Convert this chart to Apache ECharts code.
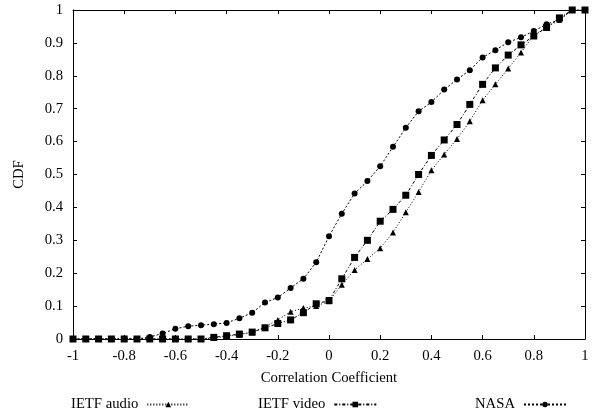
<!DOCTYPE html>
<html><head><meta charset="utf-8">
<script src="https://cdn.jsdelivr.net/npm/echarts@6/dist/echarts.min.js"></script>
<style>html,body{margin:0;padding:0;background:#fff}#c{width:595px;height:417px}</style>
</head><body><div id="c"></div>
<script>
var xValues = [-1,-0.95,-0.9,-0.85,-0.8,-0.75,-0.7,-0.65,-0.6,-0.55,-0.5,-0.45,-0.4,-0.35,-0.3,-0.25,-0.2,-0.15,-0.1,-0.05,0,0.05,0.1,0.15,0.2,0.25,0.3,0.35,0.4,0.45,0.5,0.55,0.6,0.65,0.7,0.75,0.8,0.85,0.9,0.95,1];
var ietfAudio = [0,0,0,0,0.003,0,0,0,0,0,0,0.003,0.008,0.013,0.02,0.037,0.058,0.083,0.094,0.1,0.115,0.165,0.21,0.243,0.276,0.324,0.385,0.447,0.513,0.561,0.608,0.662,0.726,0.774,0.822,0.871,0.924,0.947,0.97,1,1];
var ietfVideo = [0,0,0,0,0,0,0,0,0,0,0,0.005,0.01,0.015,0.021,0.034,0.047,0.058,0.08,0.107,0.117,0.183,0.248,0.3,0.358,0.394,0.437,0.5,0.558,0.605,0.652,0.713,0.774,0.824,0.863,0.894,0.921,0.947,0.976,1,1];
var nasa = [0,0,0,0,0,0,0.006,0.017,0.031,0.039,0.042,0.045,0.049,0.063,0.08,0.111,0.126,0.155,0.183,0.233,0.312,0.381,0.442,0.48,0.525,0.584,0.642,0.692,0.72,0.758,0.789,0.817,0.856,0.878,0.902,0.917,0.936,0.957,0.97,1,1];
var seriesNames = ['IETF audio','IETF video','NASA'];
var xTitle = 'Correlation Coefficient';
var yTitle = 'CDF';

function pairs(ys){ return xValues.map(function(x,i){ return [x, ys[i]]; }); }
var font = 'Liberation Serif';
var fs = 14.7;
var chart = echarts.init(document.getElementById('c'), null, {renderer:'canvas'});
var axisBase = {
  axisLine:{show:true, onZero:false, lineStyle:{color:'#000', width:1}},
  axisTick:{show:true, inside:true, length:4, lineStyle:{color:'#000'}},
  splitLine:{show:false}
};
function legendAt(left, name){
  return {data:[name], left:left, top:397, align:'right', itemWidth:42, itemHeight:7, itemGap:0, padding:0,
    textStyle:{fontFamily:font, fontSize:fs, color:'#000', padding:[0,4,0,0]}, selectedMode:false};
}
function fmt(v){ return String(Math.round(v*10)/10); }
chart.setOption({
  animation:false,
  backgroundColor:'#fff',
  grid:{left:73, right:10, top:10, bottom:78},
  legend:[legendAt(71, seriesNames[0]), legendAt(258, seriesNames[1]), legendAt(475, seriesNames[2])],
  xAxis:[
    Object.assign({type:'value', min:-1, max:1, interval:0.2, position:'bottom',
      name:xTitle, nameLocation:'middle', nameGap:32,
      nameTextStyle:{fontFamily:font, fontSize:fs, color:'#000'},
      axisLabel:{fontFamily:font, fontSize:fs, color:'#000', margin:10, formatter:fmt}}, axisBase),
    Object.assign({type:'value', min:-1, max:1, interval:0.2, position:'top', axisLabel:{show:false}}, axisBase)
  ],
  yAxis:[
    Object.assign({type:'value', min:0, max:1, interval:0.1, position:'left',
      name:yTitle, nameLocation:'middle', nameGap:46, nameRotate:90,
      nameTextStyle:{fontFamily:font, fontSize:fs, color:'#000'},
      axisLabel:{fontFamily:font, fontSize:fs, color:'#000', margin:10, formatter:fmt}}, axisBase),
    Object.assign({type:'value', min:0, max:1, interval:0.1, position:'right', axisLabel:{show:false}}, axisBase)
  ],
  series:[
    {name:seriesNames[0], type:'line', data:pairs(ietfAudio), symbol:'triangle', symbolSize:6,
      itemStyle:{color:'#000'}, lineStyle:{color:'#000', width:1, type:[1,2]}},
    {name:seriesNames[1], type:'line', data:pairs(ietfVideo), symbol:'rect', symbolSize:7,
      itemStyle:{color:'#000'}, lineStyle:{color:'#000', width:1, type:[3,2,1,2]}},
    {name:seriesNames[2], type:'line', data:pairs(nasa), symbol:'circle', symbolSize:6,
      itemStyle:{color:'#000'}, lineStyle:{color:'#000', width:1, type:[2,2]}}
  ]
});
</script></body></html>
